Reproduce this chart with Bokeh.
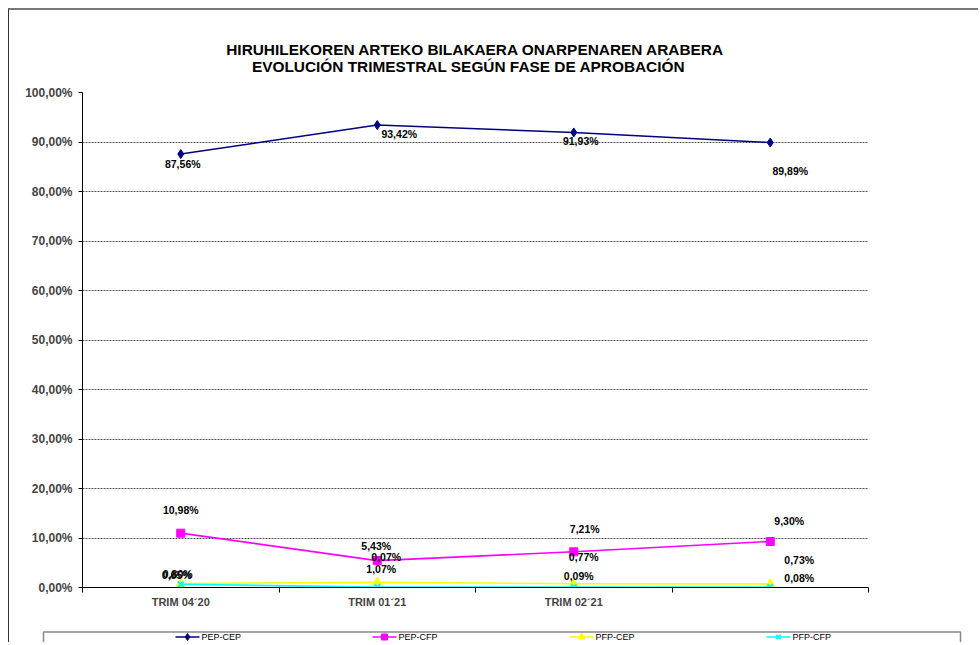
from bokeh.plotting import figure
from bokeh.models import ColumnDataSource, FixedTicker, Title
from bokeh.core.properties import value
from bokeh.embed import file_html
from bokeh.resources import INLINE

# ---- data ----
categories = ["TRIM 04´20", "TRIM 01´21", "TRIM 02´21", ""]
series_names = ["PEP-CEP", "PEP-CFP", "PFP-CEP", "PFP-CFP"]
pep_cep = [87.56, 93.42, 91.93, 89.89]
pep_cfp = [10.98, 5.43, 7.21, 9.30]
pfp_cep = [0.80, 1.07, 0.77, 0.73]
pfp_cfp = [0.65, 0.07, 0.09, 0.08]
y_ticks = [0, 10, 20, 30, 40, 50, 60, 70, 80, 90, 100]
title_lines = ["HIRUHILEKOREN ARTEKO BILAKAERA ONARPENAREN ARABERA",
               "EVOLUCIÓN TRIMESTRAL SEGÚN FASE DE APROBACIÓN"]

# label pixel offsets (style only)
label_dx = {
    "PEP-CEP": [2, 22, 7, 20],
    "PEP-CFP": [0, -1, 11, 19],
    "PFP-CEP": [-3, 4, 10, 29],
    "PFP-CFP": [-4, 9, 5, 29],
}
label_dy = {
    "PEP-CEP": [10, 9, 9, 28],
    "PEP-CFP": [-23, -15, -23, -20],
    "PFP-CEP": [-10, -13, -27, -24],
    "PFP-CFP": [-9, -30, -11, -9],
}

FONT = "Liberation Sans"
colors = ["#000080", "#FF00FF", "#FFFF00", "#00FFFF"]
markers = ["diamond", "square", "triangle", "x"]
msizes = [9, 8, 9, 8]
series_vals = [pep_cep, pep_cfp, pfp_cep, pfp_cfp]

xs = list(range(len(categories)))
W = 970
H_MAIN = 619
H_LEG = 15

p = figure(width=W, height=H_MAIN, output_backend="svg", toolbar_location=None,
           x_range=(-0.5, len(categories) - 0.5), y_range=(0, 100),
           min_border_left=73, min_border_right=111, min_border_top=82,
           min_border_bottom=42)
p.title = None
p.add_layout(Title(text=title_lines[0] + "\n" + "\u00a0" * 6 + title_lines[1],
                   align="center", text_font=FONT, text_line_height=1.0,
                   text_font_size="15.4px", text_font_style="bold",
                   text_color="black", standoff=36), "above")

p.outline_line_color = None
p.background_fill_color = "white"
p.border_fill_color = "white"

# y axis
p.yaxis.ticker = FixedTicker(ticks=y_ticks)
p.yaxis.major_label_overrides = {v: f"{v:.2f}".replace(".", ",") + "%" for v in y_ticks}
p.yaxis.major_label_text_font = FONT
p.yaxis.major_label_text_font_style = "bold"
p.yaxis.major_label_text_font_size = "12px"
p.yaxis.major_tick_out = 4
p.yaxis.major_tick_in = 0
p.yaxis.minor_tick_line_color = None
p.yaxis.major_label_standoff = 6
p.yaxis.axis_line_color = "black"

# x axis
p.xaxis.ticker = FixedTicker(ticks=xs, minor_ticks=[i + 0.5 for i in range(-1, len(categories))])
p.xaxis.major_label_overrides = {i: c for i, c in enumerate(categories)}
p.xaxis.major_label_text_font = FONT
p.xaxis.major_label_text_font_style = "bold"
p.xaxis.major_label_text_font_size = "11px"
p.xaxis.major_tick_line_color = None
p.xaxis.major_tick_out = 0
p.xaxis.minor_tick_out = 5
p.xaxis.minor_tick_in = 0
p.xaxis.minor_tick_line_color = "black"
p.xaxis.major_label_standoff = 3
p.xaxis.axis_line_color = "black"

p.xgrid.grid_line_color = None
p.ygrid.grid_line_color = "#555555"
p.ygrid.grid_line_dash = "2 1"
p.ygrid.ticker = FixedTicker(ticks=y_ticks[1:])

for name, vals, c, m, ms in zip(series_names, series_vals, colors, markers, msizes):
    src = ColumnDataSource(dict(x=xs, y=vals,
                                lab=[f"{v:.2f}".replace(".", ",") + "%" for v in vals],
                                dx=label_dx[name], dy=label_dy[name]))
    p.line("x", "y", source=src, line_color=c, line_width=1.6)
    p.scatter("x", "y", source=src, marker=m, size=ms, fill_color=c,
              line_color=c, line_width=2 if m == "x" else 1)
    p.text("x", "y", text="lab", source=src, x_offset="dx", y_offset="dy",
           text_font=value(FONT), text_font_size="10.5px", text_font_style="bold",
           text_color="black", text_align="center", text_baseline="middle")

p.styles = {"margin-left": "8px", "margin-top": "8px",
            "border-left": "1px solid #333333", "border-top": "2px solid #777777"}

# ---- legend strip (separate small figure, pixel coordinates) ----
lg = figure(width=W, height=H_LEG, output_backend="svg", toolbar_location=None,
            x_range=(0, W), y_range=(0, H_LEG), min_border=0)
lg.axis.visible = False
lg.grid.grid_line_color = None
lg.outline_line_color = None
lg.title = None
box_top = H_LEG - 4.5
lg.line([34, 34, 951, 951], [-2, box_top, box_top, -2], line_color="#888888", line_width=1.5)
entry_x0, entry_step, text_y = 166, 197, 5.5
for i, (name, c, m, ms) in enumerate(zip(series_names, colors, markers, msizes)):
    x0 = entry_x0 + i * entry_step
    lg.line([x0, x0 + 24], [text_y, text_y], line_color=c, line_width=1.6)
    lg.scatter([x0 + 12], [text_y], marker=m, size=ms - 2, fill_color=c, line_color=c,
               line_width=2 if m == "x" else 1)
    lg.text([x0 + 26], [text_y], text=[name], text_font=value(FONT),
            text_font_size="9px", text_color="black", text_baseline="middle",
            text_align="left")
lg.styles = {"margin-left": "8px", "border-left": "1px solid #333333"}

open("out.html", "w").write(file_html([p, lg], INLINE))
